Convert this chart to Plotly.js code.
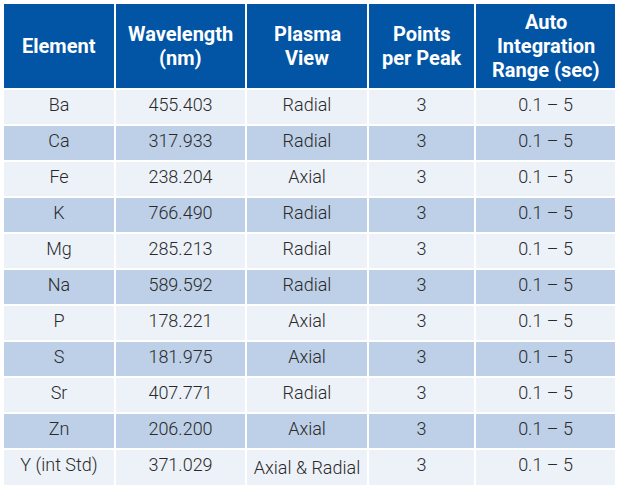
<!DOCTYPE html>
<html>
<head>
<meta charset="utf-8">
<script src="https://cdn.plot.ly/plotly-3.0.1.min.js"></script>
<style>html,body{margin:0;padding:0;background:#fff;}#chart{width:620px;height:487px;}</style>
</head>
<body>
<div id="chart"></div>
<script>
const headers = ["Element", "Wavelength<br>(nm)", "Plasma<br>View", "Points<br>per Peak", "Auto<br>Integration<br>Range (sec)"];
const elements = ["Ba", "Ca", "Fe", "K", "Mg", "Na", "P", "S", "Sr", "Zn", "Y (int Std)"];
const wavelengths = [455.403, 317.933, 238.204, 766.490, 285.213, 589.592, 178.221, 181.975, 407.771, 206.200, 371.029];
const views = ["Radial", "Radial", "Axial", "Radial", "Radial", "Radial", "Axial", "Axial", "Radial", "Axial", "Axial & Radial"];
const points = [3, 3, 3, 3, 3, 3, 3, 3, 3, 3, 3];
const ranges = ["0.1 – 5", "0.1 – 5", "0.1 – 5", "0.1 – 5", "0.1 – 5", "0.1 – 5", "0.1 – 5", "0.1 – 5", "0.1 – 5", "0.1 – 5", "0.1 – 5"];

const W = 620, H = 487;
const tblLeft = 3, tblRight = 616, tblTop = 3;
const colW = [112, 131, 122, 107, 141];
const headerH = 86, rowH = 36;
const FONT = "Roboto, 'Liberation Sans', sans-serif";

const light = "#EDF2F9", dark = "#BDD0E7";
const rowFill = elements.map((_, i) => i % 2 === 0 ? light : dark);
// keep multi-word cells on one line
const noWrap = arr => arr.map(v => String(v).replace(/ /g, "\u00A0"));

const trace = {
  type: "table",
  domain: {x: [tblLeft / W, tblRight / W], y: [0, 1 - tblTop / H]},
  columnwidth: colW,
  header: {
    values: headers.map(() => ""),
    height: headerH,
    fill: {color: "#0255A5"},
    line: {color: "#FFFFFF", width: 2}
  },
  cells: {
    values: [noWrap(elements), wavelengths.map(v => v.toFixed(3)), noWrap(views), points, noWrap(ranges)],
    height: rowH,
    align: "center",
    fill: {color: [rowFill, rowFill, rowFill, rowFill, rowFill]},
    line: {color: "#FFFFFF", width: 2},
    font: {family: FONT, size: 18, weight: 300, color: "#2A2A2A"}
  }
};

const annotations = [];
const totalW = colW.reduce((a, b) => a + b, 0);
let acc = 0;
const lineGap = 24;
const headerMid = tblTop + headerH / 2;
headers.forEach((h, c) => {
  const cx = tblLeft + (acc + colW[c] / 2) * (tblRight - tblLeft) / totalW;
  acc += colW[c];
  const lines = h.split("<br>");
  lines.forEach((ln, k) => {
    const yPx = headerMid + (k - (lines.length - 1) / 2) * lineGap;
    annotations.push({
      xref: "paper", yref: "paper",
      x: cx / W, y: 1 - yPx / H,
      xanchor: "center", yanchor: "middle",
      text: ln,
      showarrow: false,
      font: {family: FONT, size: 20, weight: 700, color: "#FFFFFF"}
    });
  });
});

const layout = {
  width: W, height: H,
  margin: {l: 0, r: 0, t: 0, b: 0},
  paper_bgcolor: "#FFFFFF",
  annotations: annotations
};

Plotly.newPlot("chart", [trace], layout, {displayModeBar: false, staticPlot: true});
</script>
</body>
</html>
